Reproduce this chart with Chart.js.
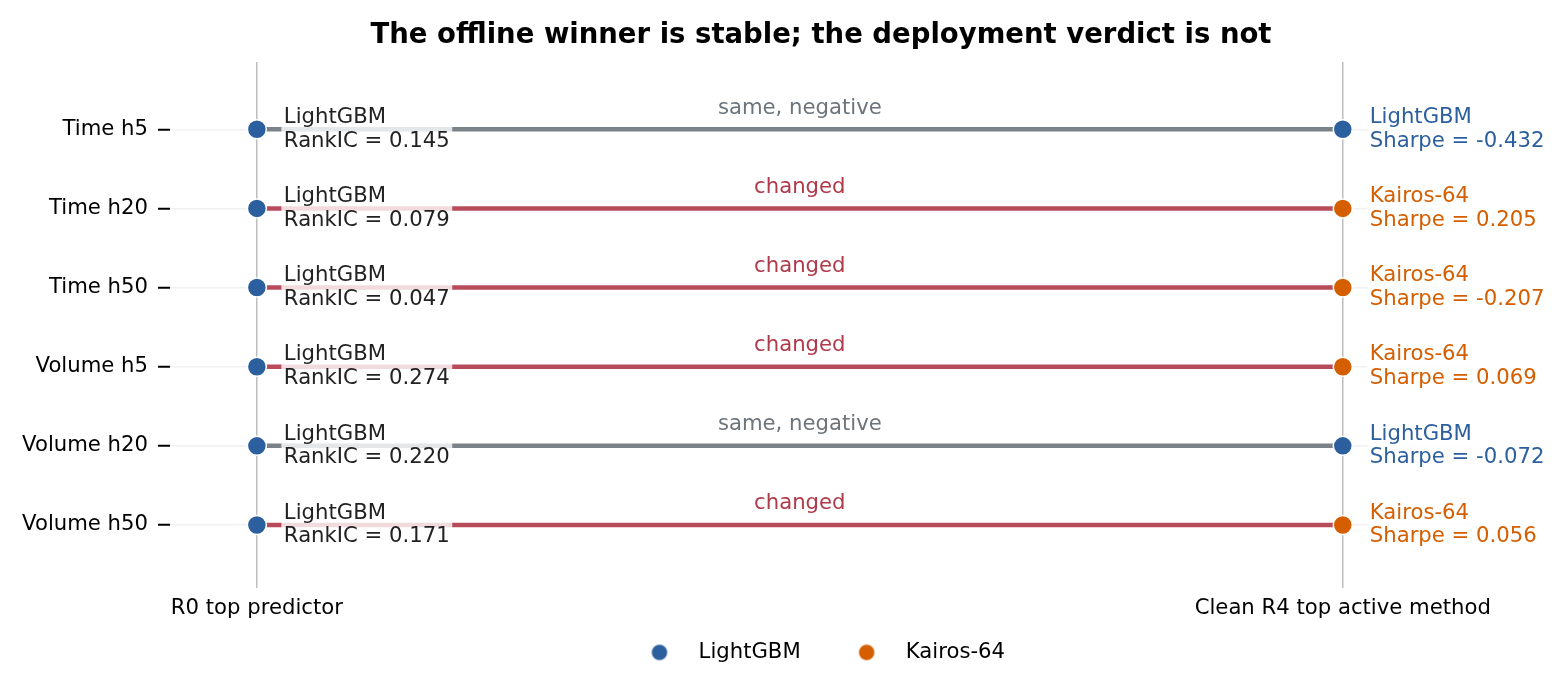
<!DOCTYPE html>
<html>
<head>
<meta charset="utf-8">
<title>Offline winner vs deployment verdict</title>
<script src="https://cdn.jsdelivr.net/npm/chart.js@4.4.0/dist/chart.umd.min.js"></script>
<style>
  html, body { margin: 0; padding: 0; background: #ffffff; }
  #wrap { width: 1567px; height: 694px; }
</style>
</head>
<body>
<div id="wrap"><canvas id="chart"></canvas></div>
<script>
const rowLabels = ["Time h5", "Time h20", "Time h50", "Volume h5", "Volume h20", "Volume h50"];
const stageLabels = ["R0 top predictor", "Clean R4 top active method"];
const r0Model = ["LightGBM", "LightGBM", "LightGBM", "LightGBM", "LightGBM", "LightGBM"];
const r0RankIC = [0.145, 0.079, 0.047, 0.274, 0.220, 0.171];
const r4Model = ["LightGBM", "Kairos-64", "Kairos-64", "Kairos-64", "LightGBM", "Kairos-64"];
const r4Sharpe = [-0.432, 0.205, -0.207, 0.069, -0.072, 0.056];
const verdicts = ["same, negative", "changed", "changed", "changed", "same, negative", "changed"];
const models = ["LightGBM", "Kairos-64"];

const modelColors = { "LightGBM": "#2c5f9e", "Kairos-64": "#d55e00" };
const lineColors = { "same, negative": "#7b8389", "changed": "#b84b5a" };
const verdictTextColors = { "same, negative": "#6c747c", "changed": "#b0394a" };

const FONT = "'DejaVu Sans', 'Liberation Sans', sans-serif";
const TEXT_SIZE = 21.2;
Chart.defaults.font.family = FONT;
Chart.defaults.font.size = TEXT_SIZE;
Chart.defaults.color = "#000000";

// one line per row, from the R0 column to the R4 column
const lineDatasets = rowLabels.map((row, i) => ({
  label: row,
  data: [{ x: 0, y: i }, { x: 1, y: i }],
  showLine: true,
  borderColor: lineColors[verdicts[i]],
  borderWidth: 4.5,
  borderCapStyle: "butt",
  pointRadius: 0,
  pointHoverRadius: 0,
  order: 2,
}));

// markers grouped by model so the legend has one entry per model
const markerDatasets = models.map((m) => {
  const pts = [];
  rowLabels.forEach((row, i) => {
    if (r0Model[i] === m) pts.push({ x: 0, y: i });
    if (r4Model[i] === m) pts.push({ x: 1, y: i });
  });
  return {
    label: m,
    data: pts,
    backgroundColor: modelColors[m],
    borderColor: "#ffffff",
    borderWidth: 1.5,
    pointRadius: 9.5,
    pointHoverRadius: 9.5,
    order: 1,
  };
});

// legend swatch: a dot placed a little right of centre in its box
function legendDot(color) {
  const c = document.createElement("canvas");
  c.width = 60;
  c.height = 24;
  const g = c.getContext("2d");
  g.beginPath();
  g.arc(30 + 8, 12, 8.5, 0, Math.PI * 2);
  g.fillStyle = color;
  g.fill();
  g.lineWidth = 1.5;
  g.strokeStyle = "#ffffff";
  g.stroke();
  return c;
}
const legendDots = { "LightGBM": legendDot(modelColors["LightGBM"]), "Kairos-64": legendDot(modelColors["Kairos-64"]) };

function drawBoxedText(ctx, lines, x, yMid, color) {
  const lh = 23.5;
  const w = Math.max(...lines.map((t) => ctx.measureText(t).width));
  ctx.fillStyle = "rgba(255,255,255,0.8)";
  ctx.fillRect(x - 2.5, yMid - lh - 2, w + 5, lh * 2 + 4);
  ctx.fillStyle = color;
  ctx.textAlign = "left";
  ctx.textBaseline = "middle";
  lines.forEach((t, k) => {
    ctx.fillText(t, x, yMid + (k - (lines.length - 1) / 2) * lh);
  });
}

const annotations = {
  id: "rowAnnotations",
  afterLayout(chart) {
    // legend sits a bit left of the plot-area centre
    chart.legend.left -= 22;
  },
  afterDatasetsDraw(chart) {
    const { ctx, scales } = chart;
    const x0 = scales.x.getPixelForValue(0);
    const x1 = scales.x.getPixelForValue(1);
    ctx.save();
    ctx.font = TEXT_SIZE + "px " + FONT;
    rowLabels.forEach((row, i) => {
      const py = scales.y.getPixelForValue(i);
      drawBoxedText(ctx, [r0Model[i], "RankIC = " + r0RankIC[i].toFixed(3)], x0 + 27, py, "#222222");
      drawBoxedText(ctx, [r4Model[i], "Sharpe = " + r4Sharpe[i].toFixed(3)], x1 + 27, py, modelColors[r4Model[i]]);
      ctx.fillStyle = verdictTextColors[verdicts[i]];
      ctx.textAlign = "center";
      ctx.textBaseline = "middle";
      ctx.fillText(verdicts[i], (x0 + x1) / 2, py - 21);
    });
    ctx.restore();
  },
};

new Chart(document.getElementById("chart"), {
  type: "scatter",
  data: { datasets: [...lineDatasets, ...markerDatasets] },
  options: {
    responsive: true,
    maintainAspectRatio: false,
    animation: false,
    layout: { padding: { top: 9, right: 95, bottom: 21, left: 0 } },
    scales: {
      x: {
        type: "linear",
        min: -0.08,
        max: 1.119,
        afterBuildTicks: (scale) => { scale.ticks = stageLabels.map((_, i) => ({ value: i })); },
        afterFit: (scale) => { scale.height = 32; },
        ticks: {
          padding: 7,
          callback: (v) => stageLabels[v],
          maxRotation: 0,
          autoSkip: false,
        },
        grid: { color: "#bdbdbd", lineWidth: 1.5, drawTicks: false },
        border: { display: false },
      },
      y: {
        type: "linear",
        reverse: true,
        min: -0.85,
        max: 5.8,
        afterBuildTicks: (scale) => { scale.ticks = rowLabels.map((_, i) => ({ value: i })); },
        afterFit: (scale) => { scale.width = 170; },
        ticks: {
          padding: 10,
          callback: (v) => rowLabels[v],
          autoSkip: false,
        },
        grid: { color: "#f1f1f1", lineWidth: 1.5, tickColor: "#000000", tickWidth: 2, tickLength: 12 },
        border: { display: false },
      },
    },
    plugins: {
      title: {
        display: true,
        text: "The offline winner is stable; the deployment verdict is not",
        fullSize: false,
        color: "#000000",
        font: { size: 27.5, weight: "bold" },
        padding: { top: 10, bottom: 10 },
      },
      legend: {
        position: "bottom",
        fullSize: false,
        labels: {
          usePointStyle: true,
          pointStyleWidth: 73,
          padding: 21.5,
          color: "#000000",
          font: { size: TEXT_SIZE },
          filter: (item) => models.includes(item.text),
          generateLabels: (chart) =>
            Chart.defaults.plugins.legend.labels.generateLabels(chart).map((item) => {
              if (legendDots[item.text]) item.pointStyle = legendDots[item.text];
              return item;
            }),
        },
      },
      tooltip: { enabled: false },
    },
  },
  plugins: [annotations],
});
</script>
</body>
</html>
